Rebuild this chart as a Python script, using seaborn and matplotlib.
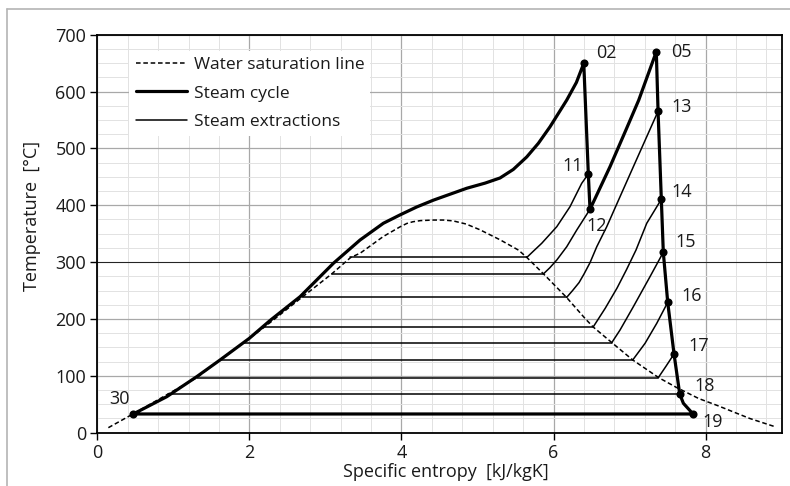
import matplotlib
matplotlib.use("Agg")
import matplotlib.pyplot as plt
import numpy as np
import pandas as pd
import seaborn as sns
from matplotlib.lines import Line2D
from matplotlib.ticker import MultipleLocator

# ---------------- data ----------------
# water saturation dome (liquid side, critical region, vapour side)
sat_s = [0.145, 0.47, 0.93, 1.31, 1.61, 1.92, 2.20, 2.69, 3.08, 3.33, 3.46, 3.76,
         3.98, 4.07, 4.15, 4.25, 4.42, 4.55, 4.68, 4.85, 5.03, 5.30, 5.54, 5.65, 5.87,
         6.17, 6.42, 6.52, 6.77, 7.04, 7.38, 7.61, 7.91, 8.15, 8.58, 8.91]
sat_T = [8.8, 33, 68, 97, 128, 158, 186, 238, 279, 308, 316, 345,
         362, 368, 371, 373, 374, 374, 372.5, 367, 357, 339, 321, 308, 279,
         238, 200, 186, 158, 128, 97, 80, 60, 48, 25, 10.6]

# steam cycle path 30 -> 02 -> 11 -> 12 -> 05 -> 13 ... 19 -> 30
cycle_s = [0.473, 0.913, 1.307, 1.614, 1.999, 2.275, 2.666, 3.104, 3.455, 3.761,
           3.98, 4.20, 4.42, 4.86, 5.10, 5.296, 5.47, 5.647, 5.80, 5.953, 6.173, 6.30, 6.397,
           6.457, 6.479, 6.742, 6.95, 7.12, 7.351,
           7.374, 7.417, 7.443, 7.501, 7.584, 7.659, 7.707, 7.834, 0.473]
cycle_T = [32.9, 63.3, 98.5, 127.9, 166, 197.7, 239.2, 297.9, 338.9, 368.3,
           383, 397, 409, 430, 439, 448, 463, 485, 509, 538, 585, 616, 649.7,
           455, 392.9, 467.8, 532, 585, 670.1,
           565.3, 410.5, 317.3, 229.3, 138.4, 68, 51.7, 32.9, 32.9]

# labelled states
state_names = ["02", "05", "11", "12", "13", "14", "15", "16", "17", "18", "19", "30"]
state_s = [6.397, 7.351, 6.457, 6.479, 7.374, 7.417, 7.443, 7.501, 7.584, 7.659, 7.834, 0.473]
state_T = [649.7, 670.1, 455, 392.9, 565.3, 410.5, 317.3, 229.3, 138.4, 68, 32.9, 32.9]

# steam extraction (desuperheating) curves
ext11_s = [6.457, 6.370, 6.216, 6.042, 5.844, 5.74, 5.65]
ext11_T = [455, 438.6, 397.5, 362.3, 333.1, 320, 308.5]
ext12_s = [6.479, 6.305, 6.173, 6.042, 5.95, 5.865]
ext12_T = [392.9, 356.5, 327.1, 303.7, 290, 279.1]
ext13_s = [7.374, 7.225, 7.049, 6.874, 6.699, 6.568, 6.479, 6.40, 6.335, 6.25, 6.173]
ext13_T = [565.3, 520.6, 467.8, 415.1, 362.3, 327.1, 299, 279, 264, 250, 238.1]
ext14_s = [7.417, 7.225, 7.084, 6.96, 6.835, 6.68, 6.523]
ext14_T = [410.5, 368.3, 321.3, 287, 254.5, 219, 186.4]
ext15_s = [7.443, 7.268, 7.049, 6.874, 6.765]
ext15_T = [317.3, 274.4, 221.6, 180.6, 158.3]
ext16_s = [7.501, 7.357, 7.203, 7.041]
ext16_T = [229.3, 192.4, 157.2, 127.9]
ext17_s = [7.584, 7.479, 7.378]
ext17_T = [138.4, 117.0, 97.0]

# condensation lines of the extractions
cond_T = [308.5, 279.1, 238.1, 186.4, 158.3, 127.9, 97.0, 68.0]
cond_s_liq = [3.323, 3.083, 2.688, 2.205, 1.920, 1.614, 1.307, 0.934]
cond_s_vap = [5.65, 5.865, 6.173, 6.523, 6.765, 7.041, 7.378, 7.659]

x_ticks = [0, 2, 4, 6, 8]
y_ticks = [0, 100, 200, 300, 400, 500, 600, 700]
legend_labels = ["Water saturation line", "Steam cycle", "Steam extractions"]

# label offsets in pixels (layout only)
label_dx = [23, 25, -16, 7, 24, 20, 22, 24, 25, 25, 20, -14]
label_dy = [10, 0, 8, -17, 4, 7, 10, 6, 8, 8, -8, 15]

# ---------------- build tables ----------------
rows = []
seg = 0
for xs, ts in [(ext11_s, ext11_T), (ext12_s, ext12_T), (ext13_s, ext13_T),
               (ext14_s, ext14_T), (ext15_s, ext15_T), (ext16_s, ext16_T),
               (ext17_s, ext17_T)]:
    for i, (a, b) in enumerate(zip(xs, ts)):
        rows.append({"seg": seg, "order": i, "s": a, "T": b})
    seg += 1
for t, sl, sv in zip(cond_T, cond_s_liq, cond_s_vap):
    rows.append({"seg": seg, "order": 0, "s": sl, "T": t})
    rows.append({"seg": seg, "order": 1, "s": sv, "T": t})
    seg += 1
thin_df = pd.DataFrame(rows)
sat_df = pd.DataFrame({"s": sat_s, "T": sat_T})
cyc_df = pd.DataFrame({"s": cycle_s, "T": cycle_T})
st_df = pd.DataFrame({"name": state_names, "s": state_s, "T": state_T})

# ---------------- style ----------------
sns.set_theme(style="white")
plt.rcParams["font.family"] = ["Open Sans", "DejaVu Sans"]
plt.rcParams["lines.solid_joinstyle"] = "round"
FS = 13

fig = plt.figure(figsize=(7.9, 4.86), dpi=100)
ax = fig.add_axes([0.1232, 0.1097, 0.8663, 0.8189])
ax.set_facecolor("white")

# data
sns.lineplot(data=thin_df, x="s", y="T", units="seg", estimator=None, sort=False,
             color="black", linewidth=1.1, ax=ax, legend=False, zorder=3)
sns.lineplot(data=sat_df, x="s", y="T", estimator=None, sort=False,
             color="black", linewidth=1.1, ax=ax, legend=False, zorder=3)
ax.lines[-1].set_dashes([3, 1.8])
sns.lineplot(data=cyc_df, x="s", y="T", estimator=None, sort=False,
             color="black", linewidth=2.3, ax=ax, legend=False, zorder=4)
sns.scatterplot(data=st_df, x="s", y="T", color="black", s=34, edgecolor="black",
                linewidth=0, ax=ax, legend=False, zorder=5)

for name, sx, ty, dx, dy in zip(state_names, state_s, state_T, label_dx, label_dy):
    ax.annotate(name, (sx, ty), xytext=(dx, dy), textcoords="offset pixels",
                ha="center", va="center", fontsize=FS, color="#1a1a1a", zorder=6)

# axes
ax.set_xlim(0, 9)
ax.set_ylim(0, 700)
ax.set_xticks(x_ticks)
ax.set_yticks(y_ticks)
ax.xaxis.set_minor_locator(MultipleLocator(0.4))
ax.yaxis.set_minor_locator(MultipleLocator(25))
ax.set_axisbelow(True)
ax.grid(which="major", color="#a8a8a8", linewidth=0.9)
ax.grid(which="minor", color="#e2e2e2", linewidth=0.7)
ax.axhline(300, color="#202020", linewidth=0.7, zorder=1)
ax.tick_params(which="major", direction="out", length=5, width=1.0, color="black",
               labelsize=FS, labelcolor="#1a1a1a", bottom=True, left=True, pad=3)
ax.tick_params(which="minor", length=0)
for sp in ax.spines.values():
    sp.set_color("black")
    sp.set_linewidth(1.3)

ax.set_xlabel("Specific entropy  [kJ/kgK]", fontsize=FS, color="#1a1a1a", va="center")
ax.xaxis.set_label_coords(0.51, -0.099)
ax.set_ylabel("Temperature  [°C]", fontsize=FS, color="#1a1a1a", va="center")
ax.yaxis.set_label_coords(-0.096, 0.544)

handles = [Line2D([], [], color="black", linewidth=1.1, dashes=[3, 1.8]),
           Line2D([], [], color="black", linewidth=2.3),
           Line2D([], [], color="black", linewidth=1.1)]
leg = ax.legend(handles, legend_labels, loc="upper left", bbox_to_anchor=(0.047, 0.96),
                frameon=True, facecolor="white", edgecolor="none", framealpha=1,
                fancybox=False, fontsize=12.5, handlelength=2.95, handletextpad=0.4,
                labelspacing=0.72, borderpad=0.35, borderaxespad=0)
for t in leg.get_texts():
    t.set_color("#1a1a1a")

# outer chart-area border (top and left visible)
fig.add_artist(Line2D([7.3 / 790, 1], [1 - 9 / 486, 1 - 9 / 486], transform=fig.transFigure,
                      color="#b4b4b4", linewidth=1.2))
fig.add_artist(Line2D([7.3 / 790, 7.3 / 790], [0, 1 - 9 / 486], transform=fig.transFigure,
                      color="#b4b4b4", linewidth=1.2))

fig.savefig("out.png", dpi=100, facecolor="white")
